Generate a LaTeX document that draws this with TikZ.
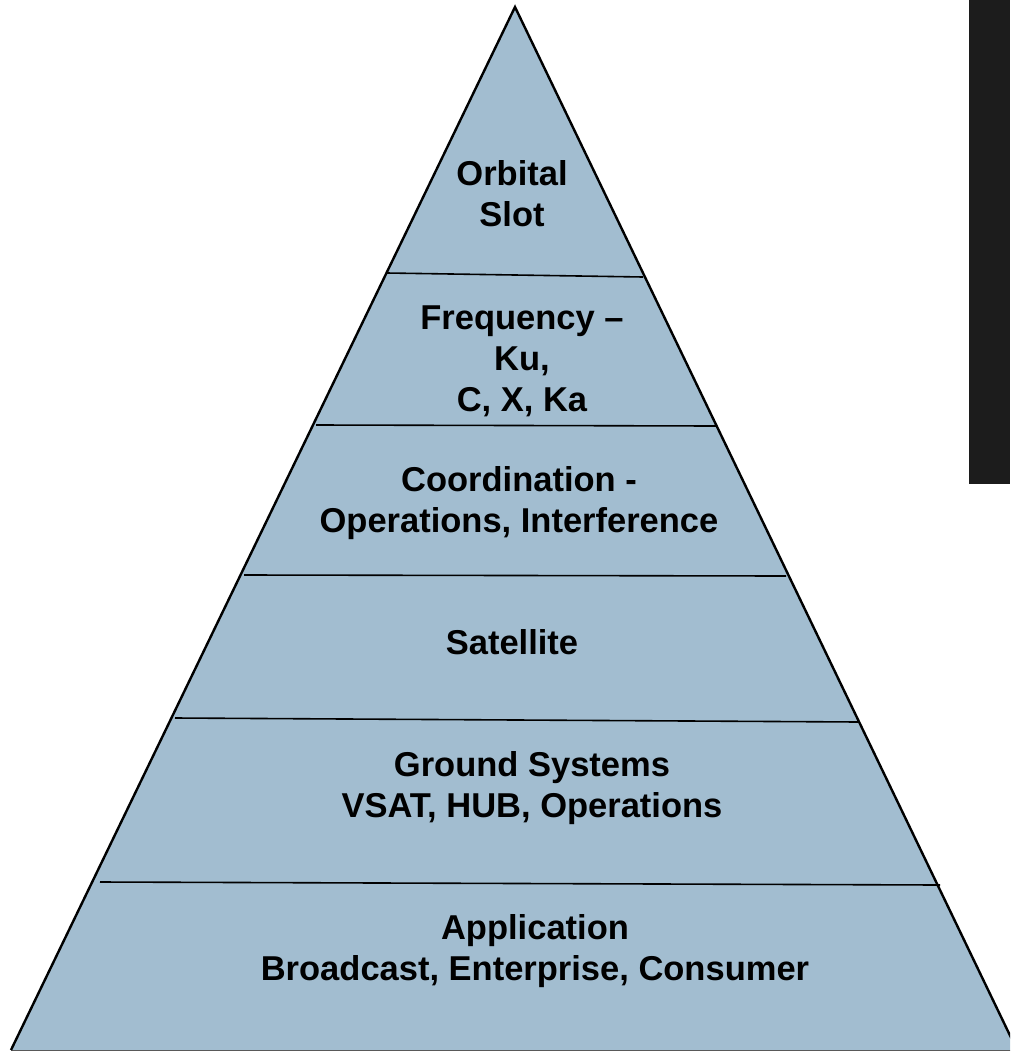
\documentclass[tikz,border=0pt]{standalone}
\usepackage{fontspec}
\setmainfont{Liberation Sans}
\definecolor{pyr}{RGB}{162,189,208}
\definecolor{darkbar}{RGB}{28,28,28}
\begin{document}
\begin{tikzpicture}[x=1pt,y=-1pt,
  layertext/.style={align=center,font=\fontsize{34.5}{41}\selectfont\bfseries,inner sep=0pt},
  divider/.style={line width=1.6pt},
  outline/.style={line width=2.4pt,line join=miter}]
\useasboundingbox (0,0) rectangle (1010,1052);
\begin{scope}
\clip (0,0) rectangle (1010,1052);
\fill[pyr] (515,7) -- (11,1050) -- (1017,1050) -- cycle;
\draw[divider] (387,273) -- (643,277);
\draw[divider] (316,425) -- (716,426);
\draw[divider] (244,575) -- (786,576);
\draw[divider] (175,718) -- (859,722);
\draw[divider] (100,882) -- (940,885);
\draw[line width=1.2pt,gray!70!black] (11,1050.5) -- (1017,1050.5);
\draw[outline] (11,1050) -- (515,7) -- (1017,1050);
\end{scope}
\fill[darkbar] (969,0) rectangle (1010,484);
\node[layertext] (orbital) at (512,194) {Orbital\\Slot};
\node[layertext] (freq) at (522,361) {Frequency --\\Ku,\\C, X, Ka};
\node[layertext] (coord) at (519,503) {Coordination -\\Operations, Interference};
\node[layertext] (sat) at (512,642) {Satellite};
\node[layertext] (ground) at (532,788) {Ground Systems\\VSAT, HUB, Operations};
\node[layertext] (app) at (535,951) {Application\\Broadcast, Enterprise, Consumer};
\end{tikzpicture}
\end{document}
